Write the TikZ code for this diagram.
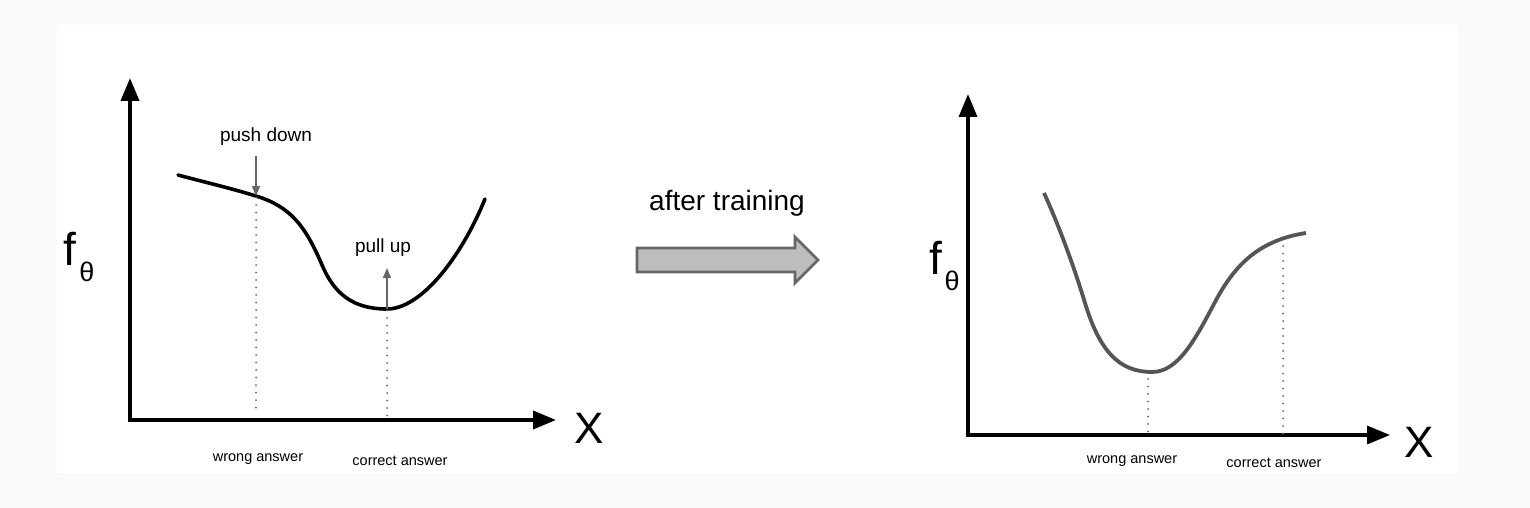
\documentclass[tikz,border=0pt]{standalone}
\usepackage{fontspec}
\setmainfont{Liberation Sans}
\usetikzlibrary{arrows.meta}
\definecolor{bgpage}{HTML}{FAFAFA}
\definecolor{curvegray}{HTML}{555555}
\definecolor{annot}{HTML}{666666}
\definecolor{blockfill}{HTML}{BDBDBD}
\definecolor{blockdraw}{HTML}{666666}
\definecolor{dotgray}{HTML}{666666}
\tikzset{
  axis/.style={line width=3.8pt, -{Triangle[length=23pt,width=18pt]}},
  dotline/.style={dotgray, line width=2pt, line cap=round, dash pattern=on 0pt off 7.5pt},
  annotarrow/.style={annot, line width=1.6pt, -{Triangle[length=10pt,width=8pt]}},
  lbl/.style={inner sep=0pt, font=\fontsize{19}{22}\selectfont},
  small/.style={inner sep=0pt, font=\fontsize{14.5}{17}\selectfont},
  xlbl/.style={inner sep=0pt, font=\fontsize{44}{48}\selectfont},
  flbl/.style={inner sep=0pt, anchor=base, font=\fontsize{46}{50}\selectfont},
  thlbl/.style={inner sep=0pt, font=\fontsize{27}{30}\selectfont},
}
\begin{document}
\begin{tikzpicture}[x=1pt,y=-1pt]
\useasboundingbox (0,0) rectangle (1530,508);
\fill[bgpage] (0,0) rectangle (1530,508);
\fill[white] (57,25) rectangle (1457,473);

% ---------- left plot ----------
\coordinate (LO) at (130,420);
\coordinate (LY) at (130,78);
\coordinate (LX) at (556,420);
\draw[axis] (LO) -- (LY);
\draw[axis] ([xshift=-1.9pt]LO) -- (LX);
\node[xlbl] (LXl) at (589,428) {X};
\node[flbl] (Lf) at (70,265) {f};
\node[thlbl] (Lth) at (87,272) {θ};

\coordinate (Lpush) at (256,196);
\coordinate (Lmin) at (387,309);
\draw[line width=3.6pt, line cap=round]
  (178,175) .. controls (204,182) and (230,188) .. (Lpush)
  .. controls (290,206.5) and (305,225) .. (322,265)
  .. controls (334,293) and (352,309) .. (Lmin)
  .. controls (420,309) and (460,260) .. (485,199);

\node[lbl] (push) at (266,137) {push down};
\coordinate (pushtop) at (256,156);
\draw[annotarrow] (pushtop) -- (Lpush);
\node[lbl] (pull) at (383,248) {pull up};
\coordinate (pulltop) at (387,268);
\draw[annotarrow] (Lmin) -- (pulltop);

\coordinate (Lwb) at (256,415);
\coordinate (Lcb) at (387,420);
\draw[dotline] ([yshift=6pt]Lpush) -- (Lwb);
\draw[dotline] ([yshift=6pt]Lmin) -- (Lcb);
\node[small] (Lw) at (258,459) {wrong answer};
\node[small] (Lc) at (400,461) {correct answer};

% ---------- middle arrow ----------
\node[inner sep=0pt, font=\fontsize{28}{32}\selectfont] (after) at (727,203) {after training};
\coordinate (B1) at (637,248);
\draw[blockdraw, fill=blockfill, line width=2.8pt, line join=miter]
  (B1) -- (795,248) -- (795,237) -- (818,260) -- (795,283) -- (795,272) -- (637,272) -- cycle;

% ---------- right plot ----------
\coordinate (RO) at (968,435);
\coordinate (RY) at (968,94);
\coordinate (RX) at (1390,435);
\draw[axis, line width=3.4pt] (RO) -- (RY);
\draw[axis, line width=3.4pt] ([xshift=-1.7pt]RO) -- (RX);
\node[xlbl] (RXl) at (1419,442) {X};
\node[flbl] (Rf) at (936,274) {f};
\node[thlbl] (Rth) at (952,281) {θ};

\coordinate (Rmin) at (1152,372);
\draw[curvegray, line width=3.8pt]
  (1044,193) .. controls (1060,228) and (1075,270) .. (1085,303)
  .. controls (1100,352.5) and (1120,372) .. (Rmin)
  .. controls (1178,372) and (1195,340) .. (1215,302)
  .. controls (1235,264) and (1260,240) .. (1306,233);

\coordinate (Rwb) at (1148,435);
\coordinate (Rcb) at (1283,435);
\draw[dotline] (1148,379) -- (Rwb);
\draw[dotline] (1283,246) -- (Rcb);
\node[small] (Rw) at (1132,461) {wrong answer};
\node[small] (Rc) at (1274,463) {correct answer};
\end{tikzpicture}
\end{document}
